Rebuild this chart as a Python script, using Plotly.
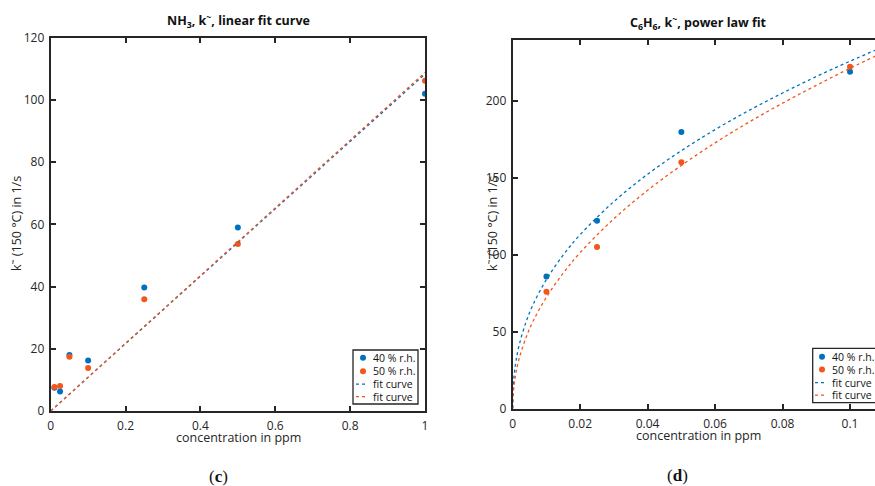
import plotly.graph_objects as go

# ---- data ----
nh3_conc = [0.01, 0.025, 0.05, 0.1, 0.25, 0.5, 1.0]
nh3_40 = [7.5, 6.3, 18.0, 16.2, 39.7, 59.0, 102.0]
nh3_50 = [7.7, 8.0, 17.4, 13.8, 35.9, 53.7, 106.2]
nh3_fit_x = [0.0, 1.0]
nh3_fit_40 = [0.0, 108.3]
nh3_fit_50 = [0.0, 108.8]

c6h6_conc = [0.01, 0.025, 0.05, 0.1]
c6h6_40 = [85.9, 122.1, 179.8, 219.0]
c6h6_50 = [75.9, 105.0, 160.1, 222.3]
c6h6_fit_x = [0.0, 0.0002, 0.0005, 0.001, 0.002, 0.004, 0.006, 0.01, 0.015, 0.02,
              0.03, 0.04, 0.05, 0.06, 0.07, 0.08, 0.09, 0.1, 0.11]
c6h6_fit_40 = [0.0, 15.6, 23.2, 31.2, 42.0, 56.6, 67.4, 83.9, 99.9, 113.1,
               134.6, 152.4, 167.7, 181.4, 193.8, 205.2, 215.9, 225.9, 235.4]
c6h6_fit_50 = [0.0, 10.9, 16.9, 23.7, 33.2, 46.4, 56.6, 72.4, 88.1, 101.4,
               123.4, 141.9, 158.1, 172.8, 186.2, 198.6, 210.2, 221.3, 231.8]

left_xticks = [0, 0.2, 0.4, 0.6, 0.8, 1]
left_xticklabels = ["0", "0.2", "0.4", "0.6", "0.8", "1"]
left_yticks = [0, 20, 40, 60, 80, 100, 120]
right_xticks = [0, 0.02, 0.04, 0.06, 0.08, 0.1]
right_xticklabels = ["0", "0.02", "0.04", "0.06", "0.08", "0.1"]
right_yticks = [0, 50, 100, 150, 200]
legend_labels = ["40 % r.h.", "50 % r.h.", "fit curve", "fit curve"]

BLUE = "#0072BD"
ORANGE = "#F2561D"
FONT = "Open Sans"
DARK = "#262626"

fig = go.Figure()

def add_set(xs, y40, y50, fx, f40, f50, xa, ya):
    fig.add_trace(go.Scatter(x=xs, y=y40, mode="markers", name=legend_labels[0],
                             marker=dict(color=BLUE, size=6), xaxis=xa, yaxis=ya))
    fig.add_trace(go.Scatter(x=xs, y=y50, mode="markers", name=legend_labels[1],
                             marker=dict(color=ORANGE, size=6), xaxis=xa, yaxis=ya))
    fig.add_trace(go.Scatter(x=fx, y=f40, mode="lines", name=legend_labels[2],
                             line=dict(color=BLUE, width=1.3, dash="3px,3px", shape="spline"),
                             xaxis=xa, yaxis=ya))
    fig.add_trace(go.Scatter(x=fx, y=f50, mode="lines", name=legend_labels[3],
                             line=dict(color=ORANGE, width=1.3, dash="3px,3px", shape="spline"),
                             xaxis=xa, yaxis=ya))

add_set(nh3_conc, nh3_40, nh3_50, nh3_fit_x, nh3_fit_40, nh3_fit_50, "x", "y")
add_set(c6h6_conc, c6h6_40, c6h6_50, c6h6_fit_x, c6h6_fit_40, c6h6_fit_50, "x2", "y2")

W, H = 875, 486
def dx(a, b):
    return [a / W, min(b / W, 1.0)]
def dy(top, bot):
    return [(H - bot) / H, (H - top) / H]

axis_common = dict(showline=True, linecolor=DARK, linewidth=2, ticks="inside",
                   ticklen=5, tickwidth=1.5, tickcolor=DARK, showgrid=False, zeroline=False,
                   automargin=False,
                   tickfont=dict(family=FONT, size=12, color=DARK))

fig.update_layout(
    width=W, height=H, margin=dict(l=0, r=0, t=0, b=0, autoexpand=False),
    paper_bgcolor="white", plot_bgcolor="white",
    showlegend=False,
    xaxis=dict(domain=dx(50.7, 425), range=[0, 1], tickvals=left_xticks,
               ticktext=left_xticklabels, mirror="ticks", ticklabelstandoff=3,
               anchor="y", **axis_common),
    yaxis=dict(domain=dy(37.7, 411), range=[0, 120], tickvals=left_yticks,
               mirror="ticks", anchor="x", ticklabelstandoff=2, **axis_common),
    xaxis2=dict(domain=dx(512.7, 875), range=[0, 0.10741], tickvals=right_xticks,
                ticktext=right_xticklabels, mirror="ticks", ticklabelstandoff=3,
                anchor="y2", **axis_common),
    yaxis2=dict(domain=dy(40.3, 408.5), range=[0, 239.5], tickvals=right_yticks,
                mirror=False, anchor="x2", ticklabelstandoff=2, **axis_common),
)

def ann(text, x, y, size=13, angle=0, family=FONT, color=DARK, xanchor="center"):
    fig.add_annotation(text=text, x=x / W, y=(H - y) / H, xref="paper", yref="paper",
                       showarrow=False, textangle=angle, xanchor=xanchor, yanchor="middle",
                       font=dict(family=family, size=size, color=color))

ann("<b>NH<sub>3</sub>, k<sup>~</sup>, linear fit curve</b>", 238, 21, size=12.5, color="#111")
ann("<b>C<sub>6</sub>H<sub>6</sub>, k<sup>~</sup>, power law fit</b>", 698, 23, size=12.5, color="#111")
ann("concentration in ppm", 238, 437, size=12.5)
ann("concentration in ppm", 698, 435, size=12.5)
ann("k<sup>~</sup> (150 °C) in 1/s", 16, 224, size=12.5, angle=-90)
ann("k<sup>~</sup> (150 °C) in 1/s", 492, 224, size=12.5, angle=-90)
ann("(<b>c</b>)", 218, 476, size=17, family="Liberation Serif", color="#111")
ann("(<b>d</b>)", 677, 475, size=17, family="Liberation Serif", color="#111")

# ---- legend boxes (drawn as paper shapes + text) ----
def legend_box(left, top, right, bottom, mark_x, text_x, rows):
    px = lambda v: v / W
    py = lambda v: (H - v) / H
    fig.add_shape(type="rect", xref="paper", yref="paper",
                  x0=px(left), x1=px(right), y0=py(bottom), y1=py(top),
                  line=dict(color=DARK, width=1.3), fillcolor="white", layer="above")
    colors = [BLUE, ORANGE, BLUE, ORANGE]
    for i, (ry, lab, col) in enumerate(zip(rows, legend_labels, colors)):
        if i < 2:
            fig.add_shape(type="circle", xref="paper", yref="paper",
                          x0=px(mark_x - 3), x1=px(mark_x + 3), y0=py(ry + 3), y1=py(ry - 3),
                          fillcolor=col, line=dict(color=col, width=0), layer="above")
        else:
            fig.add_shape(type="line", xref="paper", yref="paper",
                          x0=px(mark_x - 7), x1=px(mark_x + 5), y0=py(ry), y1=py(ry),
                          line=dict(color=col, width=1.3, dash="3px,3px"), layer="above")
        ann(lab, text_x, ry, size=10.5, color="#111", xanchor="left")

legend_box(353, 350, 418, 404, 363, 370.5, [357.7, 371.2, 384.2, 396.7])
legend_box(812.7, 348.3, 880, 402.7, 822, 829.5, [356.7, 369.5, 382.7, 395.2])

fig.write_html("out.html")
